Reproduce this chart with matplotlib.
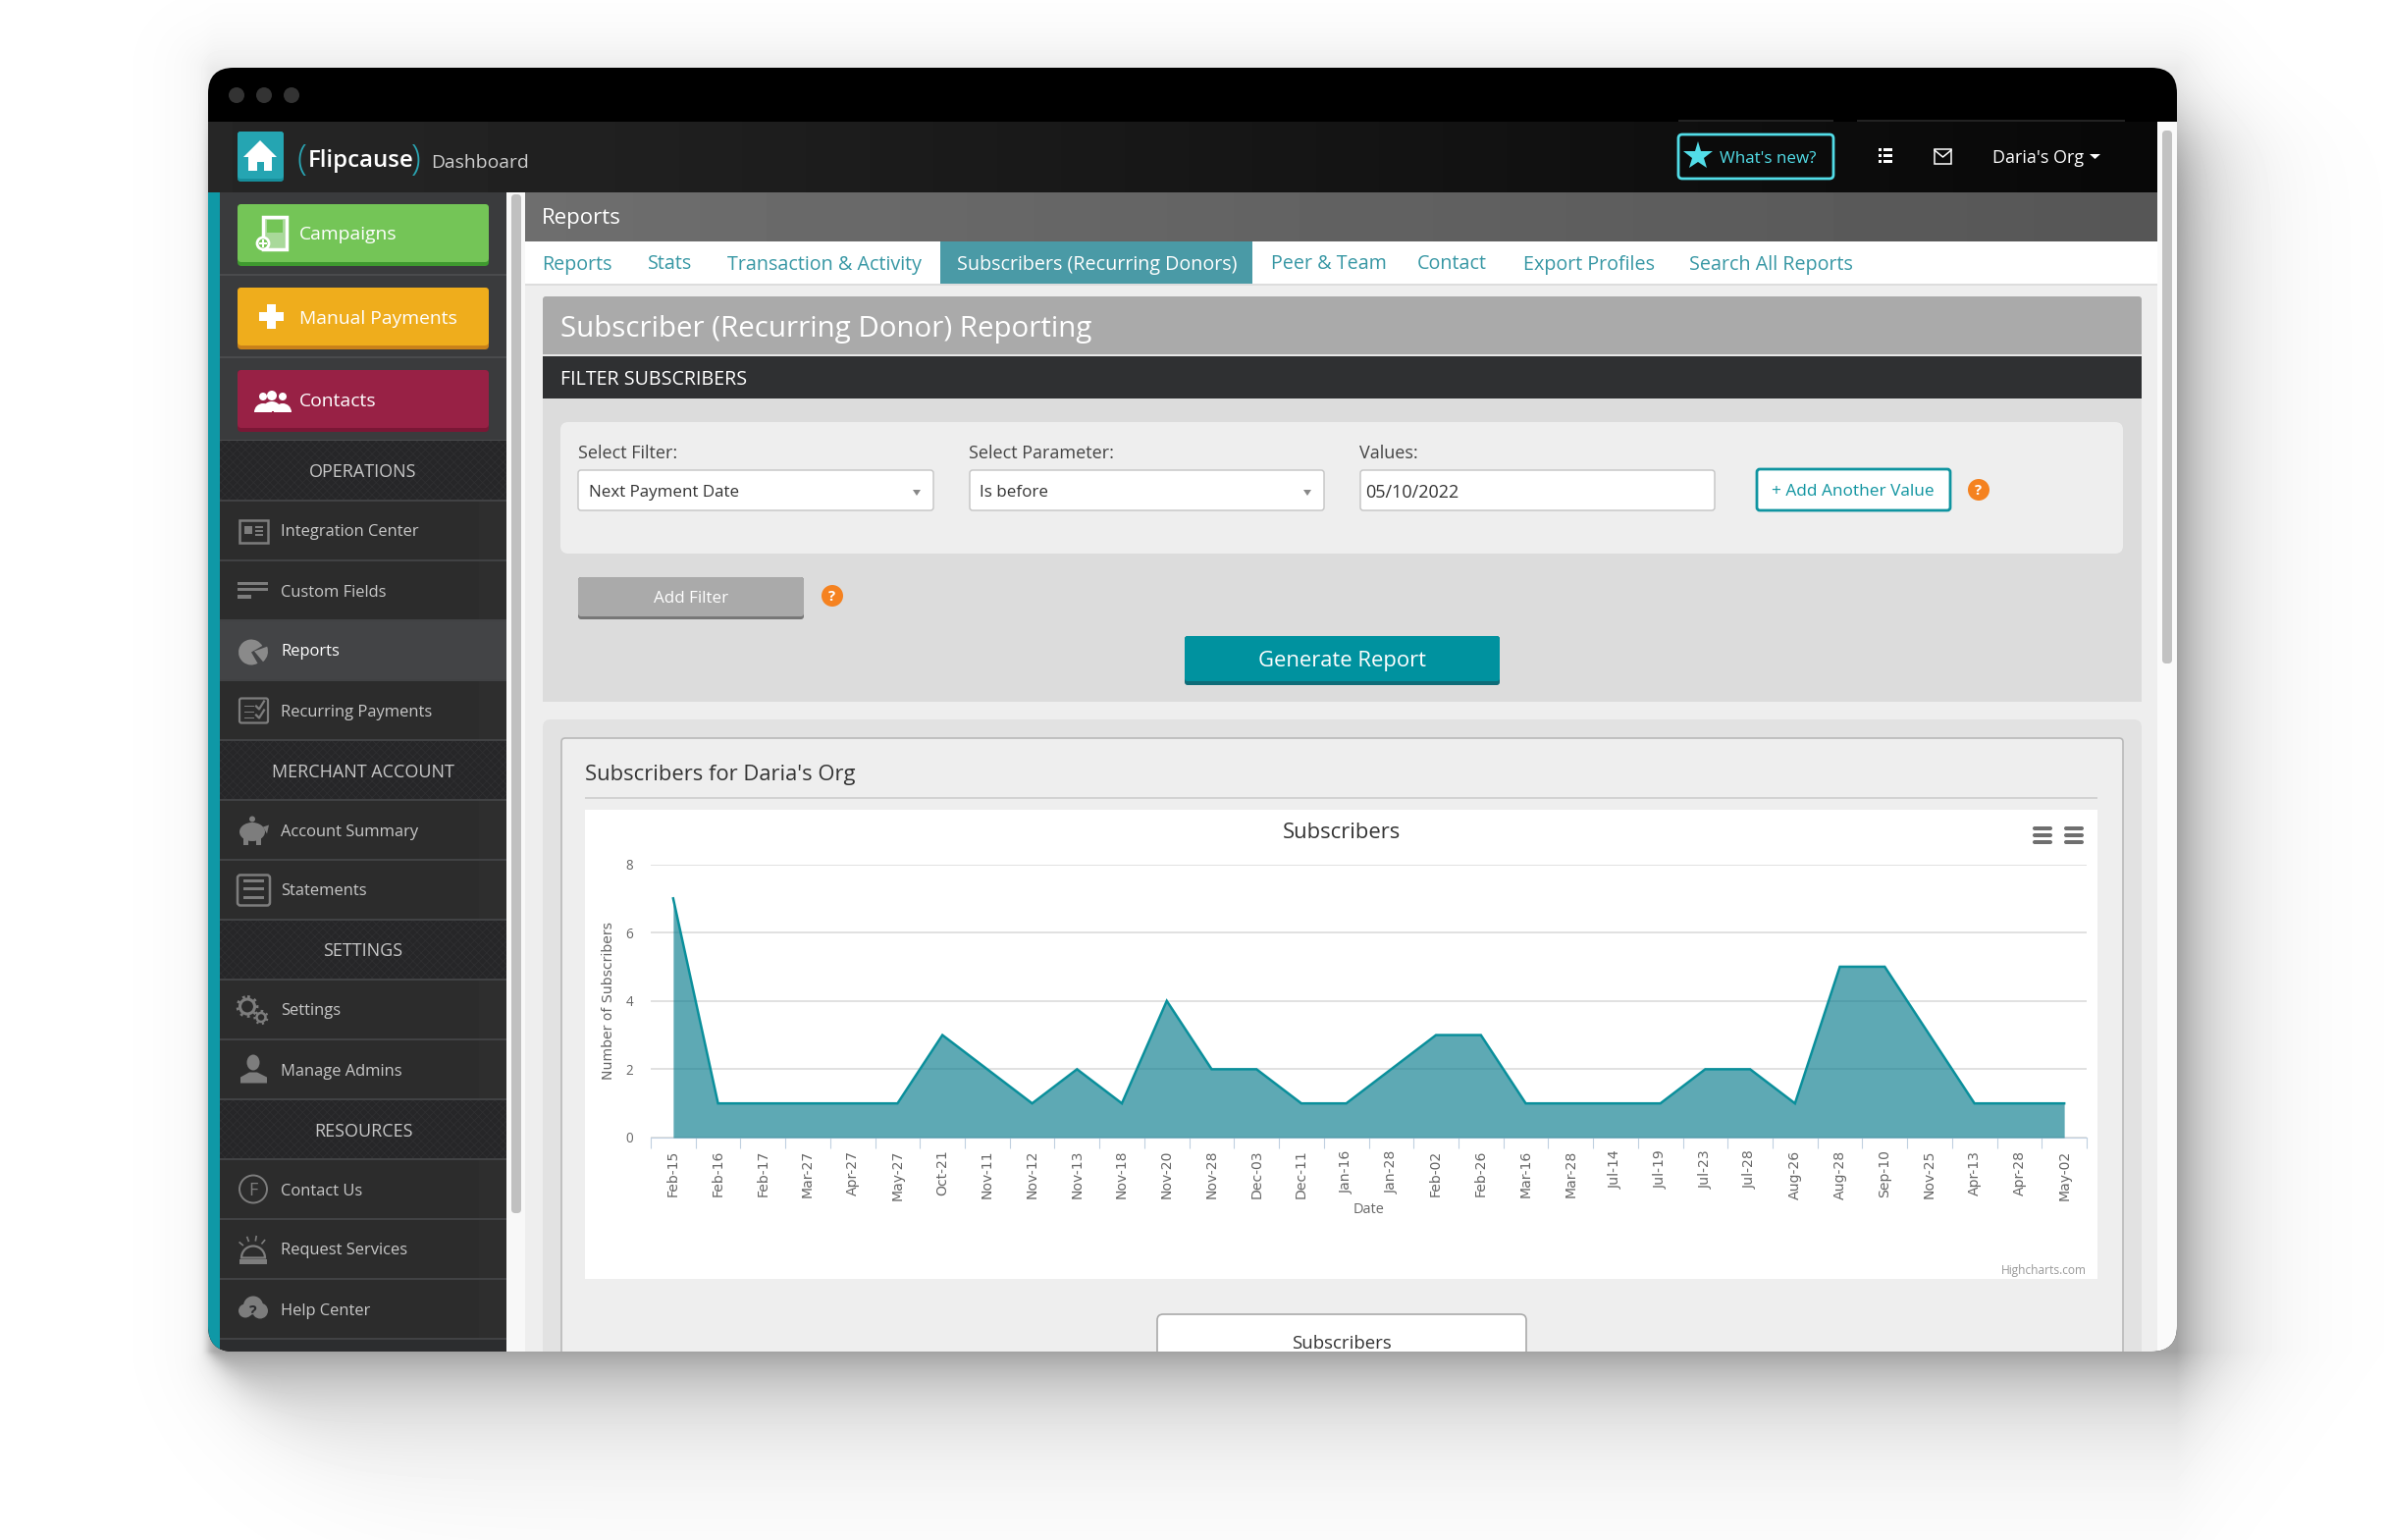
import numpy as np
import matplotlib
matplotlib.use("Agg")
import matplotlib.pyplot as plt
from matplotlib.patches import Rectangle, FancyBboxPatch, Circle, Wedge, Polygon, Ellipse

W, H = 2432, 1569
FONT = "Open Sans"
CHART_FONT = "DejaVu Sans"

# ============================================================
# Chart data
# ============================================================
dates = ["Feb-15", "Feb-16", "Feb-17", "Mar-27", "Apr-27", "May-27", "Oct-21", "Nov-11",
         "Nov-12", "Nov-13", "Nov-18", "Nov-20", "Nov-28", "Dec-03", "Dec-11", "Jan-16",
         "Jan-28", "Feb-02", "Feb-26", "Mar-16", "Mar-28", "Jul-14", "Jul-19", "Jul-23",
         "Jul-28", "Aug-26", "Aug-28", "Sep-10", "Nov-25", "Apr-13", "Apr-28", "May-02"]
subscribers = [7, 1, 1, 1, 1, 1, 3, 2, 1, 2, 1, 4, 2, 2, 1, 1,
               2, 3, 3, 1, 1, 1, 1, 2, 2, 1, 5, 5, 3, 1, 1, 1]
y_ticks = [0, 2, 4, 6, 8]

tab_labels = ["Reports", "Stats", "Transaction & Activity", "Subscribers (Recurring Donors)",
              "Peer & Team", "Contact", "Export Profiles", "Search All Reports"]
menu_rows = [("section", "OPERATIONS"), ("item", "Integration Center"), ("item", "Custom Fields"),
             ("active", "Reports"), ("item", "Recurring Payments"), ("section", "MERCHANT ACCOUNT"),
             ("item", "Account Summary"), ("item", "Statements"), ("section", "SETTINGS"),
             ("item", "Settings"), ("item", "Manage Admins"), ("section", "RESOURCES"),
             ("item", "Contact Us"), ("item", "Request Services"), ("item", "Help Center")]


def px(size):
    # font size given in image pixels
    return size * 72 / 100


fig = plt.figure(figsize=(W / 100, H / 100), dpi=100, facecolor="white")
bg = fig.add_axes([0, 0, 1, 1], zorder=0)
bg.set_xlim(0, W)
bg.set_ylim(H, 0)
bg.axis("off")
bg.set_autoscale_on(False)

plt.rcParams["hatch.linewidth"] = 0.6

# ============================================================
# Window shadow
# ============================================================
xx, yy = np.meshgrid(np.arange(W) + 0.5, np.arange(H) + 0.5)
dx = np.clip(xx - 2218, 0, None)
dy = np.clip(yy - 1377, 0, None)
dl = np.clip(212 - xx, 0, None)
dt = np.clip(69 - yy, 0, None)
left_edge = 212 + dy * 0.7
left_fade = 1 / (1 + np.exp(-(xx - left_edge) / (3 + dy * 0.3)))
top_fade = 1 / (1 + np.exp(-(yy - 125) / 25))
main = 0.31 * np.exp(-dx / 48) * np.exp(-dy / 66) * left_fade * top_fade
ambient = 0.05 * np.exp(-np.hypot(np.hypot(dx, dl), np.hypot(dy, dt)) / 30)
shade = 1 - np.clip(main + ambient, 0, 1)
bg.imshow(shade, extent=(0, W, H, 0), cmap="gray", vmin=0, vmax=1, aspect="auto",
          interpolation="bilinear", zorder=0)

# ============================================================
# Helpers (everything inside the window is clipped to its corners)
# ============================================================
window = FancyBboxPatch((212 + 26, 69 + 26), 2006 - 52, 1308 - 52,
                        boxstyle="round,pad=26,rounding_size=26", fc="black", ec="none", zorder=1)
bg.add_patch(window)


def rect(x0, y0, x1, y1, color, z=2, **kw):
    p = Rectangle((x0, y0), x1 - x0, y1 - y0, fc=color, ec=kw.pop("ec", "none"), zorder=z, **kw)
    bg.add_patch(p)
    p.set_clip_path(window)
    return p


def rrect(x0, y0, x1, y1, color, r=4, ec="none", lw=0, z=3):
    p = FancyBboxPatch((x0 + r, y0 + r), x1 - x0 - 2 * r, y1 - y0 - 2 * r,
                       boxstyle=f"round,pad={r},rounding_size={r}", fc=color, ec=ec, lw=lw, zorder=z)
    bg.add_patch(p)
    p.set_clip_path(window)
    return p


def grad(x0, y0, x1, y1, c0, c1, z=2):
    vals = np.linspace(c0, c1, 64).reshape(1, -1)
    im = bg.imshow(vals, extent=(x0, x1, y1, y0), cmap="gray", vmin=0, vmax=255,
                   aspect="auto", zorder=z, interpolation="bilinear")
    im.set_clip_path(window)


def label(x, y, s, size, color, ha="left", weight="normal", z=6, family=FONT):
    return bg.text(x, y + 1, s, fontsize=px(size), color=color, ha=ha, va="center_baseline",
                   fontweight=weight, family=family, zorder=z)


def add(p, z=5):
    bg.add_patch(p)
    p.set_zorder(z)
    return p


# ============================================================
# Title bar and header
# ============================================================
for cx in [241, 269, 297]:
    add(Circle((cx, 97), 8, fc="#333333", ec="none"))
grad(212, 124, 2198, 196, 38, 8)
rect(2198, 124, 2218, 1377, "#fafafa")
rrect(2203, 133, 2213, 676, "#c2c2c2", r=4)
rect(1710, 122, 1868, 124, "#222222", z=3)
rect(1892, 122, 2165, 124, "#222222", z=3)

rrect(242, 134, 289, 185, "#178e9b", r=3)
rrect(242, 134, 289, 182, "#25a5b2", r=3)
add(Polygon([[265, 143], [282, 160], [277, 160], [277, 174], [269, 174], [269, 165], [262, 165],
             [262, 174], [253, 174], [253, 160], [248, 160]], closed=True, fc="white", ec="none"))
label(302, 158, "(", 36, "#2aa6b4", weight="light")
label(314, 160, "Flipcause", 24, "white", weight="semibold")
label(419, 158, ")", 36, "#2aa6b4", weight="light")
label(439, 163, "Dashboard", 19.3, "#cfcfcf")

rrect(1710, 137, 1868, 182, "#0b0b0b", r=4, ec="#52dde8", lw=2)
bg.plot([1730], [159], marker="*", ms=22, color="#52dde8", mew=0, zorder=6)
label(1752, 159, "What's new?", 17, "#52dde8", weight="medium")
for ly in [152, 158, 164]:
    rect(1914, ly - 1.5, 1917, ly + 1.5, "white", z=5)
    rect(1919, ly - 1.5, 1928, ly + 1.5, "white", z=5)
add(Rectangle((1971, 152), 17, 15, fc="none", ec="white", lw=1.1))
bg.plot([1971, 1979.5, 1988], [153, 160, 153], color="white", lw=1.1, zorder=6)
label(2030, 158, "Daria's Org", 18, "white", weight="medium")
add(Polygon([[2129, 157], [2140, 157], [2134.5, 162]], closed=True, fc="white", ec="none"))

# ============================================================
# Sidebar
# ============================================================
rect(212, 196, 224, 1377, "#0f98a6")
rect(224, 196, 516, 1377, "#2b2c2e")
rect(224, 196, 516, 449, "#3a3b3d")
rect(516, 196, 535, 1377, "#f8f8f8")
rrect(521, 198, 531, 1236, "#c0c0c0", r=4)
for ly in [280, 364, 449]:
    rect(224, ly - 1, 516, ly + 1, "#4a4b4d", z=3)

buttons = [("Campaigns", 208, 271, "#74c557", "#3f9a2f"),
           ("Manual Payments", 293, 356, "#efad1c", "#c9811a"),
           ("Contacts", 377, 440, "#982145", "#7a1735")]
for text, y0, y1, color, edge in buttons:
    rrect(242, y0, 498, y1, edge, r=4)
    rrect(242, y0, 498, y1 - 4, color, r=4, z=4)
    label(305, (y0 + y1) / 2 - 3, text, 19.3, "white", weight="medium")

# button icons
add(Rectangle((268, 221), 24, 33, fc="#a9d99a", ec="white", lw=2.5))
add(Rectangle((272, 224), 16, 13, fc="#74c557", ec="none"))
add(Circle((268, 248), 6, fc="#74c557", ec="white", lw=2), 6)
rect(264, 247, 272, 249, "white", z=7)
rect(267, 244, 269, 252, "white", z=7)
rect(264, 318, 289, 327, "white", z=6)
rect(272, 310, 281, 335, "white", z=6)
for cx, cy, r in [(268, 404, 4), (288, 404, 4), (277, 403, 5)]:
    add(Circle((cx, cy), r, fc="white", ec="none"))
    add(Wedge((cx, cy + 16), 5 + r, 180, 360, fc="white", ec="none"))

row_y = 449
row_h = 61
ICON = "#7d7d7d"
rows_y = {}
for kind, text in menu_rows:
    y0, y1 = row_y, row_y + row_h
    cy = (y0 + y1) / 2
    if kind == "section":
        rect(224, y0, 516, y1, "#262628", z=3, hatch="xxxx", ec="#2f2f31", lw=0)
        label(370, cy - 1, text, 18, "#c8c8c8", ha="center")
    else:
        if kind == "active":
            rect(224, y0, 516, y1, "#434446", z=3)
        else:
            grad(224, y0, 516, y1, 44, 46, z=3)
        label(286, cy - 1, text, 16.5, "white" if kind == "active" else "#c8c8c8", weight="normal")
        rows_y[text] = cy
    rect(224, y1 - 1, 516, y1 + 0.5, "#414244", z=4)
    row_y = y1
rect(224, row_y, 516, 1377, "#2c2d2f", z=3)

# sidebar icons, all drawn around x = 258
ix = 258
c = rows_y["Integration Center"]
add(Rectangle((ix - 14, c - 11), 29, 23, fc="none", ec=ICON, lw=1.8))
add(Rectangle((ix - 9, c - 5), 8, 8, fc=ICON, ec="none"))
for ly in [-5, -1, 3]:
    rect(ix + 2, c + ly, ix + 10, c + ly + 2, ICON, z=6)
c = rows_y["Custom Fields"]
rect(ix - 16, c - 9, ix + 15, c - 6, ICON, z=6)
rect(ix - 16, c - 3, ix + 15, c, ICON, z=6)
rect(ix - 16, c + 4, ix - 2, c + 8, ICON, z=6)
c = rows_y["Reports"]
add(Wedge((ix - 2, c + 2), 13, 60, 330, fc="#8a8a8a", ec="none"))
add(Wedge((ix + 1, c + 1), 14, 340, 50, fc="#8a8a8a", ec="none"))
c = rows_y["Recurring Payments"]
add(FancyBboxPatch((ix - 13, c - 11), 27, 23, boxstyle="round,pad=1,rounding_size=2", fc="none", ec=ICON, lw=1.6))
for ly in [-5, 1, 7]:
    rect(ix - 9, c + ly, ix + 1, c + ly + 1.6, ICON, z=6)
bg.plot([ix + 3, ix + 6, ix + 11], [c - 4, c - 1, c - 9], color=ICON, lw=1.6, zorder=6)
bg.plot([ix + 3, ix + 6, ix + 11], [c + 5, c + 8, c], color=ICON, lw=1.6, zorder=6)
c = rows_y["Account Summary"]
add(Ellipse((ix - 1, c + 2), 26, 19, fc=ICON, ec="none"))
add(Circle((ix - 1, c - 11), 3, fc=ICON, ec="none"))
rect(ix - 10, c + 8, ix - 5, c + 15, ICON, z=6)
rect(ix + 3, c + 8, ix + 8, c + 15, ICON, z=6)
add(Polygon([[ix + 10, c - 3], [ix + 16, c - 5], [ix + 14, c + 4]], closed=True, fc=ICON, ec="none"))
c = rows_y["Statements"]
add(FancyBboxPatch((ix - 16, c - 15), 33, 31, boxstyle="round,pad=0,rounding_size=3", fc="none", ec=ICON, lw=1.8))
for ly in [-9, -1, 8]:
    rect(ix - 10, c + ly - 1.5, ix + 11, c + ly + 1.5, ICON, z=6)
c = rows_y["Settings"]
add(Circle((ix - 6, c - 3), 7.5, fc="none", ec=ICON, lw=2.2))
add(Circle((ix - 6, c - 3), 10, fc="none", ec=ICON, lw=2, ls=(0, (1, 1.6))))
add(Circle((ix + 8, c + 8), 4.5, fc="none", ec=ICON, lw=1.8))
add(Circle((ix + 8, c + 8), 6.5, fc="none", ec=ICON, lw=1.6, ls=(0, (1, 1.6))))
c = rows_y["Manage Admins"]
add(Ellipse((ix, c - 7), 13, 16, fc=ICON, ec="none"))
add(Polygon([[ix - 13, c + 14], [ix - 13, c + 8], [ix - 4, c + 3], [ix + 4, c + 3], [ix + 14, c + 8],
             [ix + 14, c + 14]], closed=True, fc=ICON, ec="none"))
c = rows_y["Contact Us"]
add(Circle((ix, c), 14, fc="none", ec=ICON, lw=1.4))
label(ix, c - 1, "F", 18, ICON, ha="center")
c = rows_y["Request Services"]
add(Wedge((ix, c + 9), 12, 180, 360, fc="none", ec=ICON, lw=1.6))
rect(ix - 14, c + 10, ix + 14, c + 15, ICON, z=6)
for ang in [-50, -20, 10, 40]:
    bg.plot([ix + 14 * np.sin(np.radians(ang)), ix + 18 * np.sin(np.radians(ang))],
            [c + 5 - 14 * np.cos(np.radians(ang)), c + 5 - 18 * np.cos(np.radians(ang))],
            color=ICON, lw=1.2, zorder=6)
c = rows_y["Help Center"]
for cx, cy, r in [(-8, 2, 7), (7, 2, 8), (0, -3, 10)]:
    add(Circle((ix + cx, c + cy), r, fc=ICON, ec="none"))
label(ix, c + 1, "?", 16, "#2b2c2e", ha="center", weight="bold", z=7)

# ============================================================
# Main panel chrome
# ============================================================
rect(535, 196, 2198, 1377, "#eeeeee")
grad(535, 196, 2198, 246, 110, 86, z=3)
label(552, 219, "Reports", 22.3, "white")
rect(535, 246, 2198, 289, "white", z=3)
rect(535, 289, 2198, 291, "#dddddd", z=3)
rect(958, 246, 1276, 289, "#4a9aa6", z=4)
tab_x = [552, 660, 741, 975, 1295, 1444, 1552, 1721]
for text, x in zip(tab_labels, tab_x):
    label(x, 266, text, 19.8, "white" if text.startswith("Subscribers") else "#3797a4")

rrect(553, 302, 2182, 370, "#aaaaaa", r=3)
label(571, 331, "Subscriber (Recurring Donor) Reporting", 29.5, "white")
rect(553, 361, 2182, 363, "#e8e8e8", z=4)
rect(553, 363, 2182, 406, "#2f3032", z=4)
label(571, 383, "FILTER SUBSCRIBERS", 19.7, "white")
rect(553, 406, 2182, 715, "#dcdcdc", z=3)
rrect(571, 430, 2163, 564, "#eeeeee", r=8, z=4)

for x, text in [(589, "Select Filter:"), (987, "Select Parameter:"), (1385, "Values:")]:
    label(x, 459, text, 18, "#444444", z=6)
boxes = [(589, 951, "Next Payment Date", 600), (988, 1349, "Is before", 998), (1386, 1747, "05/10/2022", 1391)]
for x0, x1, text, tx in boxes:
    rrect(x0, 479, x1, 520, "white", r=3, ec="#c4c4c4", lw=1.0, z=5)
    label(tx, 499, text, 17 if tx != 1391 else 18, "#333333")
for ax_x in [934, 1332]:
    add(Polygon([[ax_x - 4, 499], [ax_x + 4, 499], [ax_x, 505]], closed=True, fc="#888888", ec="none"), 6)

rrect(1790, 478, 1987, 520, "white", r=3, ec="#0f94a0", lw=2, z=5)
label(1888, 498, "+ Add Another Value", 17.3, "#0f94a0", ha="center")
for qx, qy in [(2016, 499), (848, 607)]:
    add(Circle((qx, qy), 11, fc="#f58220", ec="none"))
    label(qx, qy - 1, "?", 15, "white", ha="center", weight="bold", z=7)

rrect(589, 588, 819, 631, "#777777", r=3, z=4)
rrect(589, 588, 819, 628, "#aaaaaa", r=3, z=5)
label(704, 607, "Add Filter", 17, "white", ha="center")
rrect(1207, 648, 1528, 698, "#0e6c78", r=3, z=4)
rrect(1207, 648, 1528, 694, "#00929f", r=3, z=5)
label(1368, 670, "Generate Report", 22, "white", ha="center")

# ============================================================
# Chart card
# ============================================================
rrect(553, 733, 2182, 1400, "#e2e2e2", r=8, z=3)
rrect(572, 752, 2163, 1400, "#eeeeee", r=4, ec="#b8b8b8", lw=1.2, z=4)
label(596, 786, "Subscribers for Daria's Org", 22, "#333333")
rect(596, 812, 2137, 814, "#d2d2d2", z=5)
rect(596, 825, 2137, 1303, "white", z=5)
label(1367, 845, "Subscribers", 22, "#333333", ha="center")
for mx in [2081, 2113]:
    for ly in [844, 851, 858]:
        rrect(mx - 10, ly - 2, mx + 10, ly + 2, "#6f6f6f", r=2, z=6)
label(2126, 1292, "Highcharts.com", 12, "#999999", ha="right")
rrect(1179, 1339, 1555, 1420, "white", r=6, ec="#aaaaaa", lw=1.2, z=5)
label(1367, 1366, "Subscribers", 18.7, "#333333", ha="center")

# ============================================================
# Area chart
# ============================================================
left, right, top, bottom = 663, 2126, 880.5, 1159
ax = fig.add_axes([left / W, 1 - bottom / H, (right - left) / W, (bottom - top) / H], zorder=2)
ax.patch.set_alpha(0)
x = np.arange(len(dates))
ax.fill_between(x, subscribers, 0, color="#087b8d", alpha=0.65, lw=0, zorder=3)
ax.plot(x, subscribers, color="#0a8f9b", lw=1.8, zorder=4, solid_joinstyle="miter")
ax.set_xlim(-0.5, len(dates) - 0.5)
ax.set_ylim(0, 8)
ax.set_yticks(y_ticks)
ax.set_xticks(x)
ax.set_xticklabels(dates, rotation=90, fontsize=px(14), color="#666666", family=CHART_FONT)
ax.set_xticks(np.arange(len(dates) + 1) - 0.5, minor=True)
ax.tick_params(axis="x", which="major", length=0, pad=9)
ax.tick_params(axis="x", which="minor", length=8, width=0.8, color="#c0d0e0")
ax.tick_params(axis="y", length=0, pad=13, labelsize=px(13.5), labelcolor="#666666")
for t in ax.get_yticklabels():
    t.set_family(FONT)
    t.set_verticalalignment("center_baseline")
ax.grid(axis="y", color="#d8d8d8", lw=1.1, zorder=1)
ax.set_axisbelow(True)
for side in ["top", "left", "right"]:
    ax.spines[side].set_visible(False)
ax.spines["bottom"].set_color("#c0d0e0")
ax.set_ylabel("Number of Subscribers", fontsize=px(14), color="#666666", family=CHART_FONT, va="center")
ax.yaxis.set_label_coords((620 - left) / (right - left), 0.5)
ax.set_xlabel("Date", fontsize=px(14.5), color="#666666", family=FONT, va="center")
ax.xaxis.set_label_coords((1395 - left) / (right - left), (bottom - 1233) / (bottom - top))

fig.savefig("out.png", dpi=100)
